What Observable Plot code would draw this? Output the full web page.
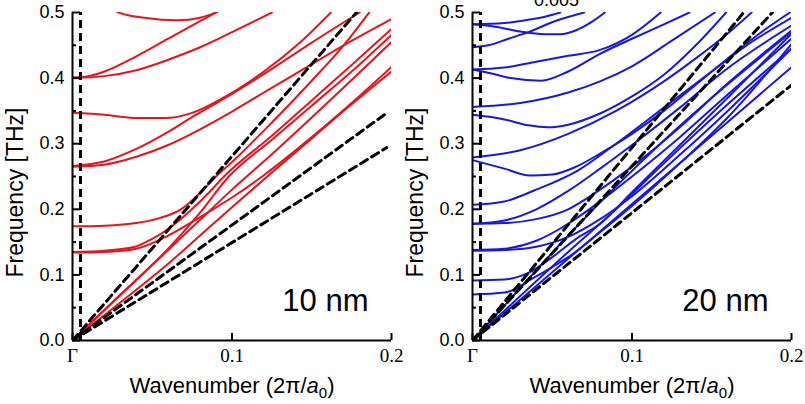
<!DOCTYPE html>
<html><head><meta charset="utf-8">
<script src="https://cdn.jsdelivr.net/npm/d3@7"></script>
<script src="https://cdn.jsdelivr.net/npm/@observablehq/plot@0.6"></script>
<style>
body{margin:0;background:#fff;}
#wrap{display:flex;width:805px;height:404px;overflow:hidden;}
</style></head><body><div id="wrap"></div>
<script>
// ---------- axes ----------
const qDomain = [0, 0.2];
const fDomain = [0, 0.5];
const qTicks = [0, 0.1, 0.2];
const fTicks = [0, 0.1, 0.2, 0.3, 0.4, 0.5];
const fMinorTicks = [0.05, 0.15, 0.25, 0.35, 0.45];
const zoneEdge = [0.005];
const xTitle = "Wavenumber (2π/a0)";
const yTitle = "Frequency [THz]";
const leftLabel = "10 nm";
const rightLabel = "20 nm";
const topNote = "0.005";

// ---------- 10 nm (red) bands: [q, f] ----------
const red_A  = [[0.015,0.52],[0.029,0.5],[0.045,0.492],[0.066,0.488],[0.08,0.492],[0.092,0.502]];
const red_B1 = [[0,0.401],[0.01,0.403],[0.02,0.41],[0.04,0.433],[0.06,0.46],[0.08,0.487],[0.09,0.5]];
const red_B2 = [[0,0.4],[0.02,0.403],[0.04,0.412],[0.06,0.428],[0.08,0.447],[0.1,0.47],[0.125,0.5]];
const red_C  = [[0,0.347],[0.02,0.344],[0.04,0.339],[0.058,0.339],[0.075,0.347],[0.093,0.368],[0.12,0.41],[0.143,0.455],[0.162,0.5]];
const red_D1 = [[0,0.266],[0.02,0.273],[0.04,0.292],[0.06,0.318],[0.076,0.342],[0.1,0.376],[0.125,0.414],[0.15,0.454],[0.18,0.5]];
const red_D2 = [[0,0.265],[0.02,0.268],[0.04,0.28],[0.06,0.298],[0.08,0.322],[0.1,0.349],[0.122,0.381],[0.145,0.414],[0.17,0.45],[0.2,0.49]];
const red_E  = [[0,0.174],[0.02,0.175],[0.04,0.179],[0.055,0.187],[0.068,0.2],[0.08,0.225],[0.09,0.25],[0.1,0.272],[0.12,0.32],[0.15,0.396],[0.17,0.45],[0.186,0.5]];
const red_F1 = [[0,0.135],[0.02,0.137],[0.038,0.142],[0.05,0.155],[0.06,0.17],[0.074,0.198],[0.085,0.224],[0.095,0.25],[0.125,0.312],[0.15,0.366],[0.175,0.42],[0.2,0.475]];
const red_F2 = [[0,0.134],[0.02,0.135],[0.04,0.14],[0.06,0.16],[0.08,0.188],[0.1,0.218],[0.12,0.252],[0.15,0.31],[0.175,0.362],[0.2,0.417]];
const red_G1 = [[0,0],[0.03,0.07],[0.06,0.14],[0.08,0.195],[0.098,0.25],[0.125,0.306],[0.15,0.358],[0.175,0.41],[0.2,0.466]];
const red_G2 = [[0,0],[0.03,0.069],[0.06,0.138],[0.08,0.184],[0.1,0.23],[0.125,0.284],[0.15,0.34],[0.175,0.397],[0.2,0.455]];
const red_G3 = [[0,0],[0.03,0.058],[0.06,0.117],[0.08,0.16],[0.1,0.203],[0.125,0.256],[0.15,0.308],[0.175,0.36],[0.2,0.41]];
const redBands = {A:red_A,B1:red_B1,B2:red_B2,C:red_C,D1:red_D1,D2:red_D2,E:red_E,F1:red_F1,F2:red_F2,G1:red_G1,G2:red_G2,G3:red_G3};
// sound lines (start, end)
const redSound1 = [[0,0],[0.178,0.5]];
const redSound2 = [[0,0],[0.1975,0.3476]];
const redSound3 = [[0,0],[0.197,0.294]];

// ---------- 20 nm (blue) bands ----------
const blue_A1 = [[0,0.482],[0.02,0.484],[0.035,0.489],[0.046,0.494],[0.055,0.5]];
const blue_A2 = [[0,0.482],[0.015,0.478],[0.03,0.471],[0.045,0.467],[0.055,0.467],[0.065,0.473],[0.075,0.486],[0.083,0.5]];
const blue_B  = [[0,0.447],[0.01,0.45],[0.0225,0.46],[0.035,0.47],[0.052,0.487],[0.07,0.5]];
const blue_C1 = [[0,0.413],[0.02,0.416],[0.04,0.425],[0.06,0.434],[0.08,0.443],[0.1,0.466],[0.118,0.5]];
const blue_C2 = [[0,0.413],[0.012,0.407],[0.024,0.4],[0.043,0.396],[0.06,0.41],[0.08,0.437],[0.1,0.46],[0.12,0.482],[0.136,0.5]];
const blue_D1 = [[0,0.356],[0.03,0.362],[0.06,0.378],[0.08,0.395],[0.1,0.418],[0.125,0.457],[0.152,0.5]];
const blue_D2 = [[0,0.344],[0.02,0.337],[0.035,0.328],[0.047,0.325],[0.06,0.329],[0.08,0.346],[0.1,0.372],[0.12,0.405],[0.14,0.45],[0.159,0.5]];
const blue_E1 = [[0,0.279],[0.03,0.29],[0.06,0.315],[0.09,0.35],[0.12,0.395],[0.14,0.43],[0.16,0.468],[0.175,0.5]];
const blue_E2 = [[0,0.275],[0.02,0.262],[0.036,0.2515],[0.05,0.253],[0.065,0.265],[0.08,0.285],[0.1,0.315],[0.12,0.35],[0.14,0.39],[0.16,0.43],[0.18,0.468],[0.199,0.5]];
const blue_G  = [[0,0.207],[0.02,0.212],[0.039,0.229],[0.066,0.259],[0.09,0.3],[0.12,0.355],[0.15,0.41],[0.175,0.455],[0.2,0.492]];
const blue_H1 = [[0,0.178],[0.02,0.179],[0.04,0.185],[0.06,0.2],[0.08,0.23],[0.1,0.265],[0.13,0.325],[0.16,0.392],[0.2,0.4726]];
const blue_H2 = [[0,0.178],[0.02,0.183],[0.04,0.2],[0.06,0.228],[0.08,0.262],[0.1,0.298],[0.13,0.355],[0.16,0.415],[0.2,0.48]];
const blue_I1 = [[0,0.138],[0.02,0.14],[0.04,0.152],[0.06,0.178],[0.08,0.212],[0.1,0.25],[0.13,0.31],[0.16,0.375],[0.2,0.46]];
const blue_I2 = [[0,0.137],[0.02,0.138],[0.04,0.143],[0.06,0.158],[0.08,0.185],[0.1,0.22],[0.13,0.283],[0.16,0.35],[0.2,0.445]];
const blue_J  = [[0,0.0915],[0.02,0.093],[0.035,0.103],[0.05,0.127],[0.065,0.155],[0.08,0.178],[0.1,0.226],[0.13,0.298],[0.16,0.37],[0.2,0.4675]];
const blue_K  = [[0,0.07],[0.02,0.073],[0.039,0.0965],[0.05,0.112],[0.06,0.127],[0.08,0.165],[0.1,0.205],[0.13,0.27],[0.16,0.34],[0.2,0.452]];
const blue_L1 = [[0,0],[0.03,0.08],[0.06,0.16],[0.09,0.235],[0.12,0.305],[0.15,0.37],[0.2,0.47]];
const blue_L2 = [[0,0],[0.03,0.068],[0.06,0.135],[0.09,0.2],[0.12,0.27],[0.16,0.36],[0.2,0.445]];
const blue_L3 = [[0,0],[0.05,0.104],[0.1,0.208],[0.15,0.312],[0.2,0.4167]];
const blueBands = {A1:blue_A1,A2:blue_A2,B:blue_B,C1:blue_C1,C2:blue_C2,D1:blue_D1,D2:blue_D2,E1:blue_E1,E2:blue_E2,G:blue_G,H1:blue_H1,H2:blue_H2,I1:blue_I1,I2:blue_I2,J:blue_J,K:blue_K,L1:blue_L1,L2:blue_L2,L3:blue_L3};
const blueSound1 = [[0,0],[0.170,0.5]];
const blueSound2 = [[0,0],[0.188,0.5]];
const blueSound3 = [[0,0],[0.1998,0.389]];

const SANS = "Liberation Sans, Arial, sans-serif";
const SERIF = "Liberation Serif, Times New Roman, serif";

function rows(obj) {
  const out = [];
  for (const [k, pts] of Object.entries(obj)) for (const [q, f] of pts) out.push({band: k, q, f});
  return out;
}

function panel({bands, sounds, color, label, width, marginRight, note}) {
  const bandRows = rows(bands);
  const soundRows = rows(sounds);
  const marks = [
    Plot.line(bandRows, {x: "q", y: "f", z: "band", stroke: color, strokeWidth: 2, curve: "monotone-x", clip: true}),
    Plot.line(soundRows, {x: "q", y: "f", z: "band", stroke: "black", strokeWidth: 3, strokeDasharray: "8,5", clip: true}),
    Plot.ruleX(zoneEdge, {y1: fDomain[0], y2: fDomain[1], stroke: "black", strokeWidth: 3, strokeDasharray: "8,5"}),
    Plot.ruleX([qDomain[0]], {y1: fDomain[0], y2: fDomain[1], stroke: "black", strokeWidth: 2}),
    Plot.ruleY([fDomain[0]], {x1: qDomain[0], x2: qDomain[1], stroke: "black", strokeWidth: 2}),
    Plot.axisY(fTicks, {tickSize: -8, tickPadding: 16, strokeWidth: 2, tickFormat: d3.format(".1f"), fontSize: 18, fontFamily: SANS, fill: "black", label: null}),
    Plot.axisY(fMinorTicks, {tickSize: -4, strokeWidth: 2, text: null, label: null}),
    Plot.axisX(qTicks, {tickSize: -7, tickPadding: 15, strokeWidth: 2, tickFormat: d => d === 0 ? "Γ" : d.toFixed(1), fontSize: 19, fontFamily: SERIF, fill: "black", label: null}),
    Plot.text([xTitle], {frameAnchor: "bottom", dy: 52, lineAnchor: "bottom", fontSize: 22, fontFamily: SANS, fill: "black"}),
    Plot.text([yTitle], {frameAnchor: "left", dx: -57, dy: 16, rotate: -90, lineAnchor: "middle", textAnchor: "middle", fontSize: 23, fontFamily: SANS, fill: "black"}),
    Plot.text([label], {frameAnchor: "bottom-right", dx: -23, dy: -30, textAnchor: "end", lineAnchor: "bottom", fontSize: 31, fontFamily: SANS, fill: "black"})
  ];
  if (note) marks.push(Plot.text([note], {frameAnchor: "top-left", dx: 84, dy: -7, textAnchor: "middle", lineAnchor: "bottom", fontSize: 18, fontFamily: SANS, fill: "black"}));
  const svg = Plot.plot({
    width, height: 404,
    marginLeft: 72, marginRight, marginTop: 12, marginBottom: 64,
    x: {domain: qDomain},
    y: {domain: fDomain},
    marks
  });
  // italic a with subscript 0 in the x title
  d3.select(svg).selectAll("text").each(function() {
    if (this.textContent === xTitle) {
      const t = d3.select(this);
      t.text(null);
      t.append("tspan").text("Wavenumber (2π/");
      t.append("tspan").attr("font-style", "italic").text("a");
      t.append("tspan").attr("font-size", 15).attr("dy", 5).text("0");
      t.append("tspan").attr("dy", -5).text(")");
    }
  });
  return svg;
}

const wrap = document.getElementById("wrap");
const left = panel({bands: redBands, sounds: {s1: redSound1, s2: redSound2, s3: redSound3}, color: "#e8141c", label: leftLabel, width: 400, marginRight: 9});
const right = panel({bands: blueBands, sounds: {s1: blueSound1, s2: blueSound2, s3: blueSound3}, color: "#1818e0", label: rightLabel, width: 405, marginRight: 14, note: topNote});
left.style.overflow = "visible";
left.style.position = "relative";
left.style.zIndex = "1";
left.style.background = "transparent";
right.style.background = "transparent";
wrap.append(left, right);
</script></body></html>
